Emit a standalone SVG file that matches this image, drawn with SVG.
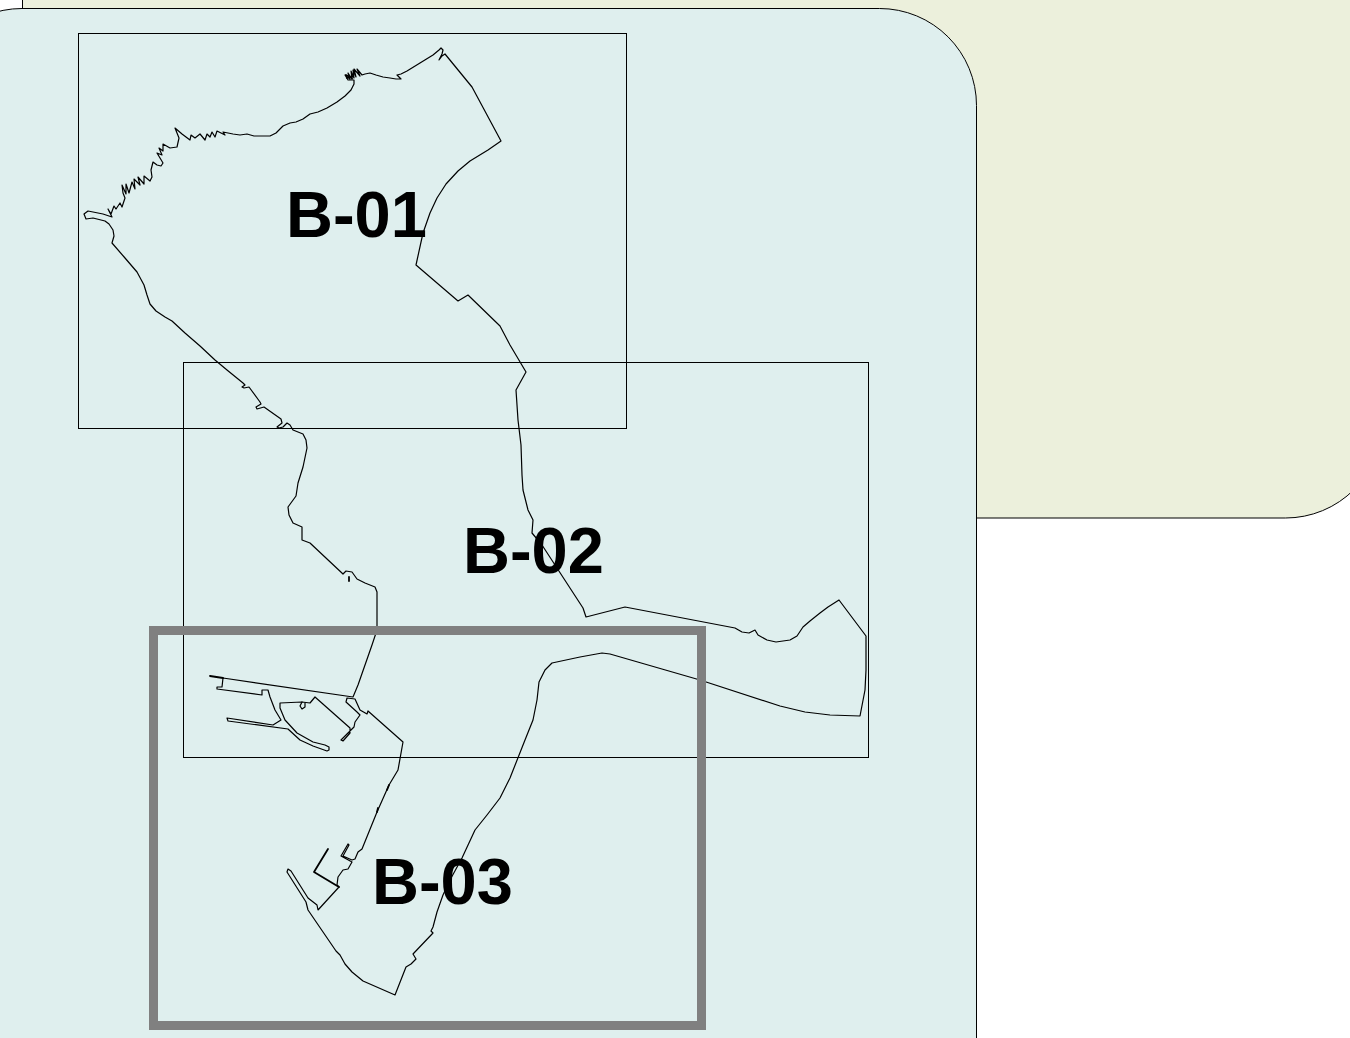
<svg xmlns="http://www.w3.org/2000/svg" width="1350" height="1038" viewBox="0 0 1350 1038">
<style>
.bg{stroke:#000;stroke-width:1}
.sheet{fill:none;stroke:#000;stroke-width:1}
.line{fill:none;stroke:#000;stroke-width:1.2;stroke-linejoin:round;stroke-linecap:round}
.heavy{stroke-width:1.8}
.lbl{font-family:"Liberation Sans",Arial,sans-serif;font-weight:700;font-size:65px;fill:#000}
</style>
<rect width="1350" height="1038" fill="#fff"/>
<rect id="panel-yellow" class="bg" x="22.500" y="-300" width="1360" height="818" rx="97" ry="97" fill="#ecf0dc"/>
<rect id="panel-teal" class="bg" x="-75" y="8.500" width="1051.500" height="1200" rx="97" ry="97" fill="#dfefee"/>
<g id="outline">
<path class="line" d="M112,243 L114,236 L113,230 L109,224 L105,221 L93,218 L86,219 L84,214 L88,211 L103,214 L112,217 L108,209 L111,214 L114,206 L116,209 L120,203 L122,207 L125,198 L123,193 L122,185 L126,194 L126,184 L129,193 L132,182 L135,189 L134,179 L140,185 L138,177 L144,184 L144,176 L150,181 L152,177 L151,170 L153,162 L157,165 L161,166 L163,163 L157,153 L162,155 L159,148 L163,151 L163,144 L170,148 L177,147 L179,138 L175,128 L182,134 L190,140 L191,135 L195,138 L200,134 L205,140 L207,134 L210,137 L212,132 L215,137 L217,131 L225,135 L223,132 L233,134 L240,135 L247,134 L254,136 L262,136 L270,136 L276,133 L283,126 L290,123 L296,122 L303,119 L310,114 L318,112 L327,108 L337,102 L345,96 L351,90 L354,84 L354,80 L348,80 L345,75 L350,79 L348,73 L352,79 L351,71 L354,78 L353,70 L356,77 L354,69 L360,76 L357,69 L362,75 L365,74 L370,73 L376,75 L383,77 L390,78 L396,79 L401,79 L397,75 L401,74 L407,71 L420,63 L433,55 L439,50 L441,48 L443,50 L442,54 L439,60 L442,56 L445,54 L472,87 L501,141 L488,150 L470,161 L458,171 L446,184 L437,198 L430,213 L423,233 L416,265 L458,301 L468,295 L500,326 L510,345 L526,372 L516,390 L518,420 L521,445 L522,475 L523,490 L528,510 L533,520 L532,533 L542,545 L583,608 L586,617 L625,607 L735,628 L742,632 L749,633 L755,630 L758,635 L767,640 L776,642 L790,640 L797,636 L803,627 L810,621 L820,613 L828,607 L839,600 L866,636 L866,670 L865,690 L860,716 L830,715 L805,712 L780,706 L700,680 L610,654 L602,653 L580,657 L552,663 L545,670 L539,682 L537,700 L533,720 L525,740 L510,778 L500,798 L487,815 L475,830 L462,858 L450,880 L443,895 L437,912 L433,927 L431,931 L433,933 L413,954 L416,959 L411,964 L406,967 L395,995 L363,981 L352,972 L345,964 L340,955 L336,951 L308,910 L306,902 L287,872 L288,869 L291,871 L308,898 L317,905 L318,910 L339,887 L337,885 L338,877 L343,870 L348,869 L352,862 L341,856 L348,844 L349,845 L343,856 L352,860 L355,859 L358,852 L362,849 L377,812 L389,785 L398,770 L403,742 L368,711 L367,714 L360,710 L355,699 L347,698 L346,702 L357,712 L360,715 L355,722 L354,727 L341,740 L343,741 L350,733 L350,728 L315,697 L310,703 L302,702 L280,703 L280,708 L285,720 L297,733 L313,742 L325,745 L329,747 L329,750 L327,751 L313,746 L300,740 L288,729 L228,721 L227,718 L273,725 L281,720 L275,710 L270,697 L268,690 L262,690 L262,695 L217,689 L217,687 L222,687 L223,678 L353,697 L358,685 L365,665 L372,645 L377,630 L377,592 L375,587 L365,583 L357,579 L352,572 L346,571 L343,574 L310,543 L302,540 L302,527 L293,523 L289,515 L288,507 L296,496 L298,483 L303,467 L307,448 L306,440 L303,434 L293,430 L290,425 L287,423 L283,427 L279,428 L277,427 L282,423 L281,419 L264,407 L257,409 L256,407 L261,404 L260,402 L249,387 L244,388 L242,387 L245,385 L243,383 L227,370 L215,360 L200,346 L185,333 L172,321 L165,317 L156,311 L150,304 L147,295 L144,285 L137,272 L125,258 Z"/>
<path class="line heavy" d="M339,887 L314,872 L328,849"/>
<path class="line" d="M302,702 L300,706 L302,709 L305,707 L305,703"/>
<path class="line heavy" d="M210,676 L223,678 M387,790 L389,785 M377,812 L378,808 M349,577 L349,581 M346,75 L352,78 M347,78 L353,76"/>
</g>
<g id="sheet-B-01"><rect class="sheet" x="78.500" y="33.500" width="548" height="395"/><text class="lbl" x="286" y="237">B-01</text></g>
<g id="sheet-B-02"><rect class="sheet" x="183.500" y="362.500" width="685" height="395"/><text class="lbl" x="463" y="573">B-02</text></g>
<g id="sheet-B-03"><rect x="153.500" y="630.500" width="548" height="395" fill="none" stroke="#808080" stroke-width="9"/><text class="lbl" x="372" y="904">B-03</text></g>
</svg>
